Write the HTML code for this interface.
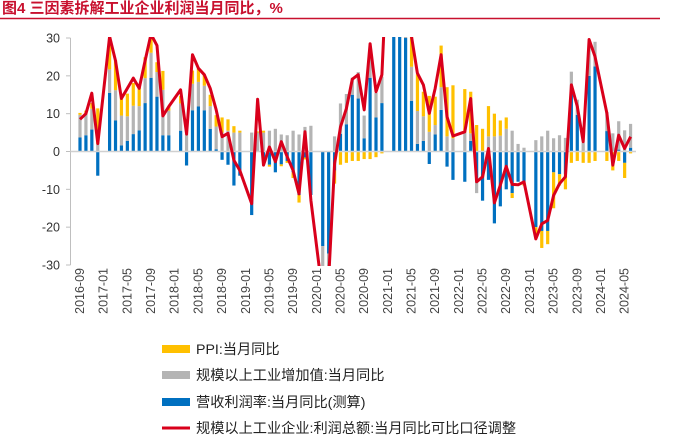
<!DOCTYPE html>
<html><head><meta charset="utf-8"><style>
body{margin:0;background:#fff;width:676px;height:442px;overflow:hidden;font-family:"Liberation Sans","Noto Sans CJK SC",sans-serif}
</style></head><body>
<svg id="c" width="676" height="442">
<text x="2" y="13" font-size="15" font-weight="bold" fill="#c8102e" font-family="Liberation Sans, Noto Sans CJK SC, sans-serif">图4  三因素拆解工业企业利润当月同比，%</text>
<line x1="0" y1="18.5" x2="660" y2="18.5" stroke="#c8102e" stroke-width="1.5"/>
<defs><clipPath id="pc"><rect x="70" y="37" width="570" height="229"/></clipPath></defs>
<g id="bars" clip-path="url(#pc)"></g>
<g id="axes"></g>
<g id="lineg" clip-path="url(#pc)"></g>
<g id="legend"></g>
</svg>
<script>
const months=[];for(let i=0;i<94;i++){const m=(8+i)%12+1,y=2016+Math.floor((8+i)/12);months.push(y+'-'+String(m).padStart(2,'0'));}
const yTicks=[30,20,10,0,-10,-20,-30];
const profit=[8.5,10,15.4,2.1,null,30.4,24,14,16.7,19.4,16.7,24,31,28,9.4,11.9,null,16.3,4.6,25.6,22,20.3,16.7,11,3.9,4.8,-2.3,-5,null,-13.8,13.8,-3.6,1.2,-2.7,2.6,-1.4,-5,-11.2,5.2,-12.9,null,-38,-34,-3.2,6.5,11.4,19.1,20.3,11,28.5,15.8,20.3,null,90,57,36,30.4,20.7,17.6,10.1,16.7,25.6,9.2,4.1,null,5.2,14,-8,-6.7,0.8,-13.6,-8.9,-3.9,-8.7,-8.8,-8,null,-23.1,-19.1,-18.2,-11.6,-8.5,-6.7,17.6,11.9,2.6,29.6,25.1,null,10.1,-3.6,4.3,0.8,3.9];
const margin=[3.7,4.3,5.8,-6.4,null,15.5,8.2,1.6,2.8,4.6,5.6,12.8,19.5,14.5,4.3,4.3,null,5.5,-3.7,10.9,11.9,10.9,6,0.6,-2.2,-3.5,-9,-6.4,null,-16.8,0,-2,-3.5,-5.5,-3.4,-2.5,-5.5,-11.5,-1.6,-11.5,null,-25,-27,-5,4.7,7.2,15,14,3.5,19.5,9,12.8,null,80,50,30,13.4,2,2.8,-3.3,4.5,11,-4,-7.5,null,-8,2.8,-7,-13,-7.5,-19,-14.5,-10,-11,-8,-8,null,-20,-21,-21,-5.5,-6,-6,15.5,9.7,0,20,22.5,null,5.4,0.2,0.5,-3,1];
const valueAdded=[6,5.5,5.5,2,null,6.2,8,7.9,6.5,7.5,6.4,6.6,6.6,6.5,12,6.5,null,7.2,4.6,7,6.5,6.5,6,6,5,5.5,5,5,null,5,5,5,5.5,6,4.5,4.3,5.5,4.5,6.5,6.8,null,-7,-6,4,8,8,4.5,7,6,7,6.5,7,null,5,5,5,9,8.7,6.5,5.2,2.5,6,4,3.5,null,5,2,-4,0,4,4,4.2,6,5.5,2,1,null,3,4,5.5,3.5,4.3,3.6,5.6,4,2.4,8,6.5,null,5,4.6,7.5,5.6,6.3];
const ppi=[0.5,1,1.5,9.4,null,8.5,8,5.5,6,6,5.5,5.5,5.5,2.6,5,1,null,2,0,3.5,3.5,3,3,3,4,3,1.7,0.5,null,0,0.3,0.5,-0.5,0,-0.5,-0.5,-1.5,-2,-0.5,0,null,0,-1.5,-3.5,-3.5,-3,-2.5,-2.5,-2,-2,-1.5,-0.5,null,2,2,2,8,9.7,6.5,9.5,7.5,11,13,14,null,11.5,11,7,6,8,6,4,3,-1.3,0,-1,null,-2.5,-4.5,-3.5,-9.5,-3,-4,-3,-2.5,-3,-3,-2.5,null,-2.5,-5,-2.5,-4,-0.5];
const NS='http://www.w3.org/2000/svg';
const X0=80,DX=5.92,Y0=151.5,K=3.783;
const xs=i=>X0+i*DX, ys=v=>Y0-v*K;
function mk(t,a,p){const e=document.createElementNS(NS,t);for(const k in a)e.setAttribute(k,a[k]);p.appendChild(e);return e;}
const bars=document.getElementById('bars'),axes=document.getElementById('axes'),lg=document.getElementById('lineg'),leg=document.getElementById('legend');
const cols=['#0070c0','#b4b4b4','#ffc000'],names=['bar-margin','bar-value-added','bar-ppi'];
for(let i=0;i<months.length;i++){
 let pos=0,neg=0;
 [margin,valueAdded,ppi].forEach((s,k)=>{const v=s[i];if(v==null||v===0)return;
  let a,b;if(v>0){a=pos;b=pos+v;pos=b;}else{a=neg;b=neg+v;neg=b;}
  const r=mk('rect',{x:xs(i)-1.6,y:Math.min(ys(a),ys(b)),width:3.2,height:Math.abs(ys(a)-ys(b)),fill:cols[k]},bars);
  
  
 });
}
const ax=mk('line',{x1:70.5,y1:38,x2:70.5,y2:265,stroke:'#bfbfbf'},axes);

const zl=mk('line',{x1:70,y1:ys(0),x2:636,y2:ys(0),stroke:'#d0d0d0','stroke-width':1.5},axes);

yTicks.forEach(v=>{
 mk('line',{x1:66,y1:ys(v),x2:70.5,y2:ys(v),stroke:'#bfbfbf'},axes);
 const t=mk('text',{x:60,y:ys(v)+4.5,'text-anchor':'end','font-size':12.5,fill:'#333'},axes);t.textContent=v;
 
});
for(let i=0;i<months.length;i+=4){
 const x=xs(i)+4;
 const t=mk('text',{x:x,y:268,'text-anchor':'end','font-size':12.5,fill:'#444',transform:`rotate(-90 ${x} 268)`},axes);t.textContent=months[i];
 
}
let d='';profit.forEach((v,i)=>{if(v==null)return;d+=(d?'L':'M')+xs(i).toFixed(1)+','+ys(v).toFixed(1);});
const pl=mk('path',{d:d,fill:'none',stroke:'#d9001b','stroke-width':3,'stroke-linejoin':'round'},lg);

const L=[['#ffc000','PPI:当月同比','rect'],['#b4b4b4','规模以上工业增加值:当月同比','rect'],['#0070c0','营收利润率:当月同比(测算)','rect'],['#d9001b','规模以上工业企业:利润总额:当月同比可比口径调整','line']];
const ly=[349,375,402,428];
L.forEach((l,k)=>{
 const g=mk('g',{},leg);
 
 if(l[2]=='rect')mk('rect',{x:162,y:ly[k]-4,width:28,height:8,fill:l[0]},g);
 else mk('line',{x1:162,y1:ly[k],x2:190,y2:ly[k],stroke:l[0],'stroke-width':3},g);
 const t=mk('text',{x:196,y:ly[k]+5,'font-size':14.2,fill:'#222'},g);t.textContent=l[1];
});
</script>
</body></html>
